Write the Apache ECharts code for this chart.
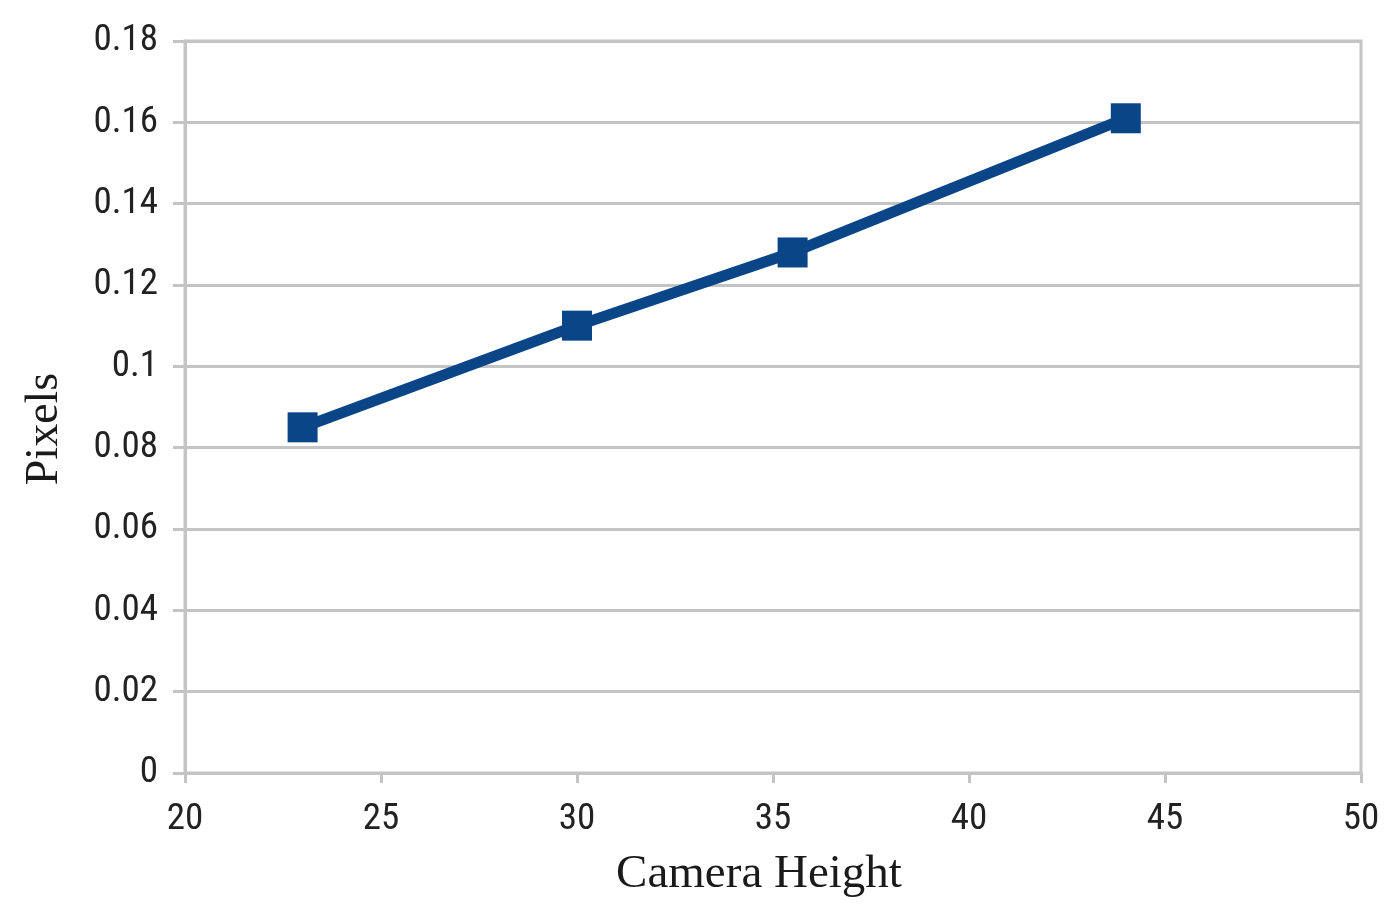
<!DOCTYPE html>
<html><head><meta charset="utf-8">
<script src="https://cdn.jsdelivr.net/npm/echarts@6/dist/echarts.min.js"></script>
<style>html,body{margin:0;padding:0;background:#fff}#c{width:1397px;height:922px}</style>
</head><body><div id="c"></div>
<script>
const cameraHeight = [23, 30, 35.5, 44];
const pixels = [0.085, 0.110, 0.128, 0.161];
const xTicks = [20, 25, 30, 35, 40, 45, 50];
const yTicks = [0, 0.02, 0.04, 0.06, 0.08, 0.1, 0.12, 0.14, 0.16, 0.18];

const labelFont = '"Liberation Sans Narrow", "Roboto Condensed", "Liberation Sans", sans-serif';
const nameFont = '"Liberation Serif", "DejaVu Serif", serif';
const chart = echarts.init(document.getElementById('c'), null, {renderer: 'canvas'});
chart.setOption({
  animation: false,
  backgroundColor: '#fff',
  grid: {left: 185, right: 36, top: 41, bottom: 149, show: true, borderColor: '#c4c4c4', borderWidth: 3},
  xAxis: {
    type: 'value', min: xTicks[0], max: xTicks[xTicks.length-1], interval: 5,
    name: 'Camera Height', nameLocation: 'middle', nameGap: 78,
    nameTextStyle: {fontFamily: nameFont, fontSize: 47, color: '#1a1a1a', padding: [0, 28, 0, 0]},
    axisLine: {show: true, lineStyle: {color: '#c4c4c4', width: 3}},
    axisTick: {show: true, length: 10, lineStyle: {color: '#c4c4c4', width: 3}},
    axisLabel: {fontFamily: labelFont, fontSize: 37, color: '#222', margin: 28, formatter: v => String(v)},
    splitLine: {show: false}
  },
  yAxis: {
    type: 'value', min: 0, max: yTicks[yTicks.length-1], interval: 0.02,
    name: 'Pixels', nameLocation: 'middle', nameGap: 117, nameRotate: 90,
    nameTextStyle: {fontFamily: nameFont, fontSize: 46, color: '#1a1a1a', padding: [0, 44, 0, 0]},
    axisLine: {show: true, lineStyle: {color: '#c4c4c4', width: 3}},
    axisTick: {show: true, length: 12, lineStyle: {color: '#c4c4c4', width: 3}},
    axisLabel: {fontFamily: labelFont, fontSize: 37, color: '#222', margin: 27,
      formatter: v => { const t = yTicks.find(y => Math.abs(y - v) < 1e-9); return t === undefined ? '' : String(+t.toFixed(2)); }},
    splitLine: {show: true, lineStyle: {color: '#c4c4c4', width: 3}}
  },
  series: [{
    type: 'line',
    data: cameraHeight.map((x, i) => [x, pixels[i]]),
    symbol: 'rect', symbolSize: 30,
    lineStyle: {color: '#0a4588', width: 11},
    itemStyle: {color: '#0a4588'},
    z: 5
  }]
});
</script></body></html>
